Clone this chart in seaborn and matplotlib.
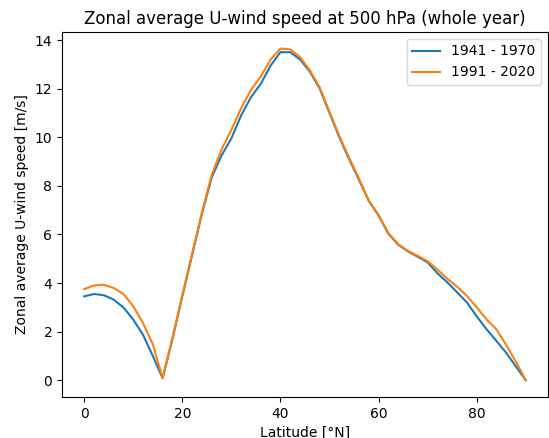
import numpy as np
import pandas as pd
import matplotlib
matplotlib.use("Agg")
import matplotlib.pyplot as plt
import seaborn as sns

# Latitude grid (2 degree steps)
latitude = list(range(0, 92, 2))

# Zonal mean U-wind at 500 hPa, 1941 - 1970
u_1941_1970 = [3.45, 3.55, 3.50, 3.32, 3.00, 2.50, 1.87, 1.00, 0.08, 1.70,
               3.45, 5.15, 6.85, 8.35, 9.25, 9.95, 10.90, 11.65, 12.20, 12.95,
               13.50, 13.50, 13.20, 12.70, 12.00, 11.00, 10.00, 9.10, 8.25, 7.38,
               6.78, 6.03, 5.58, 5.30, 5.08, 4.85, 4.40, 4.03, 3.62, 3.20,
               2.63, 2.10, 1.62, 1.13, 0.56, 0.00]

# Zonal mean U-wind at 500 hPa, 1991 - 2020
u_1991_2020 = [3.75, 3.90, 3.93, 3.80, 3.55, 3.05, 2.35, 1.48, 0.08, 1.75,
               3.50, 5.20, 6.90, 8.45, 9.50, 10.30, 11.20, 11.95, 12.50, 13.20,
               13.65, 13.62, 13.30, 12.75, 12.05, 11.05, 10.05, 9.15, 8.30, 7.40,
               6.80, 6.05, 5.60, 5.32, 5.12, 4.90, 4.55, 4.18, 3.85, 3.47,
               3.00, 2.50, 2.10, 1.45, 0.75, 0.00]

periods = ["1941 - 1970", "1991 - 2020"]

df = pd.DataFrame({
    "lat": latitude * 2,
    "u": u_1941_1970 + u_1991_2020,
    "period": [periods[0]] * len(latitude) + [periods[1]] * len(latitude),
})

fig = plt.figure(figsize=(5.49, 4.38), dpi=100)
ax = fig.add_subplot(111)
fig.subplots_adjust(left=0.113, right=0.998, top=0.927, bottom=0.094)

sns.lineplot(data=df, x="lat", y="u", hue="period", palette=["#1f77b4", "#ff7f0e"],
             ax=ax, linewidth=1.5)

# legend without the hue title
handles, labels = ax.get_legend_handles_labels()
ax.legend(handles, labels, loc="upper right")

ax.set_title("Zonal average U-wind speed at 500 hPa (whole year)")
ax.set_xlabel("Latitude [°N]")
ax.set_ylabel("Zonal average U-wind speed [m/s]")
ax.set_xticks([0, 20, 40, 60, 80])
ax.set_yticks(np.arange(0, 15, 2))

fig.savefig("out.png", dpi=100)
